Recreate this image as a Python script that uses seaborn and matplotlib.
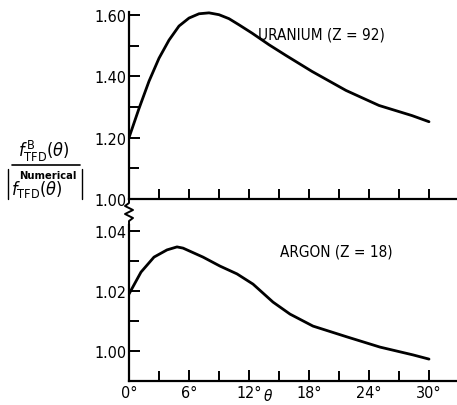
import numpy as np
import pandas as pd
import matplotlib
matplotlib.use("Agg")
import matplotlib.pyplot as plt
from matplotlib.lines import Line2D
from matplotlib.ticker import MultipleLocator
import seaborn as sns

# --- values ---
uranium_theta = [0, 1, 2, 3, 4, 5, 6, 7, 8, 9, 10, 11, 12.3, 14, 15.7, 18.3, 21.7, 25, 28.3, 30]
uranium_ratio = [1.200, 1.295, 1.384, 1.459, 1.518, 1.564, 1.590, 1.604, 1.607, 1.601,
                 1.588, 1.568, 1.541, 1.503, 1.468, 1.416, 1.354, 1.305, 1.272, 1.252]

argon_theta = [0, 1.2, 2.5, 3.8, 4.8, 5.4, 7.4, 9.1, 10.8, 12.4, 14.4, 16.1, 18.4, 21.8, 25.1, 28.4, 30]
argon_ratio = [1.019, 1.0263, 1.0313, 1.0337, 1.0347, 1.0343, 1.0313, 1.0283, 1.0257,
               1.0223, 1.0163, 1.0123, 1.0083, 1.0047, 1.0013, 0.9987, 0.9973]

upper_ticks = [1.00, 1.20, 1.40, 1.60]
lower_ticks = [1.00, 1.02, 1.04]
x_ticks = [0, 6, 12, 18, 24, 30]
x_ticklabels = ["0°", "6°", "12°", "18°", "24°", "30°"]

uranium_label = "URANIUM (Z = 92)"
argon_label = "ARGON (Z = 18)"

sns.set_style("ticks")
plt.rcParams["font.family"] = ["DejaVu Sans"]
plt.rcParams["font.stretch"] = "condensed"
plt.rcParams["text.color"] = "black"
plt.rcParams["mathtext.fontset"] = "dejavusans"

W, H = 457, 406
fig = plt.figure(figsize=(W / 100, H / 100), dpi=100)

x0 = 129 / W
ax_up = fig.add_axes([x0, (H - 200) / H, 1 - x0, 188.6 / H])
ax_lo = fig.add_axes([x0, (H - 382) / H, 1 - x0, 156 / H])

df_u = pd.DataFrame({"theta": uranium_theta, "ratio": uranium_ratio})
df_a = pd.DataFrame({"theta": argon_theta, "ratio": argon_ratio})
sns.lineplot(data=df_u, x="theta", y="ratio", ax=ax_up, color="black", linewidth=2.0, sort=False)
sns.lineplot(data=df_a, x="theta", y="ratio", ax=ax_lo, color="black", linewidth=2.0, sort=False)

for ax in (ax_up, ax_lo):
    ax.set_xlim(0, 32.8)
    ax.spines["top"].set_visible(False)
    ax.spines["right"].set_visible(False)
    for s in ("left", "bottom"):
        ax.spines[s].set_linewidth(1.6)
        ax.spines[s].set_color("black")
    ax.xaxis.set_minor_locator(MultipleLocator(3))
    ax.set_xlabel("")
    ax.set_ylabel("")
    ax.tick_params(which="both", direction="in", width=1.4, colors="black",
                   labelcolor="black", labelsize=11.5)
    ax.tick_params(which="major", length=8)
    ax.tick_params(which="minor", length=7)
    ax.tick_params(axis="y", pad=2)

ax_up.set_ylim(1.0, 1.615)
ax_up.spines["left"].set_bounds(1.0, 1.61)
ax_up.set_yticks(upper_ticks)
ax_up.set_yticklabels([f"{v:.2f}" for v in upper_ticks])
ax_up.yaxis.set_minor_locator(MultipleLocator(0.1))
ax_up.set_xticks([])
ax_up.xaxis.set_minor_locator(MultipleLocator(3))

ax_lo.set_ylim(0.99, 1.042)
ax_lo.set_yticks(lower_ticks)
ax_lo.set_yticklabels([f"{v:.2f}" for v in lower_ticks])
ax_lo.yaxis.set_minor_locator(MultipleLocator(0.01))
ax_lo.set_xticks(x_ticks)
ax_lo.set_xticklabels(x_ticklabels)
ax_lo.tick_params(axis="x", pad=3)

# theta axis label sits between the 12 and 18 degree labels
ax_lo.text(13.9, -0.09, r"$\theta$", fontsize=11, ha="center", va="center",
           transform=ax_lo.get_xaxis_transform())

ax_up.text(12.9, 1.538, uranium_label, fontsize=11, va="center", ha="left")
ax_lo.text(15.1, 1.0333, argon_label, fontsize=11, va="center", ha="left")


def px_line(xs, ys, lw=1.4):
    fig.add_artist(Line2D([v / W for v in xs], [(H - v) / H for v in ys],
                          transform=fig.transFigure, color="black", linewidth=lw))


# axis break zigzag between the panels
px_line([129, 129, 125, 133, 125, 133, 129, 129], [200, 204, 207, 211, 215, 219, 222, 227])

# y-axis ratio label, built as a stacked fraction
fig.text(44 / W, (H - 151) / H, r"$f^{\,\mathrm{B}}_{\mathrm{TFD}}(\theta)$",
         fontsize=13, ha="center", va="center")
px_line([12, 80], [166, 166], lw=1.2)
fig.text(48 / W, (H - 176) / H, "Numerical", fontsize=8, fontweight="bold",
         ha="center", va="center")
fig.text(37 / W, (H - 190) / H, r"$f_{\mathrm{TFD}}(\theta)$",
         fontsize=13, ha="center", va="center")
px_line([8, 8], [170, 200], lw=1.0)
px_line([82, 82], [170, 200], lw=1.0)

fig.savefig("out.png", dpi=100, facecolor="white")
